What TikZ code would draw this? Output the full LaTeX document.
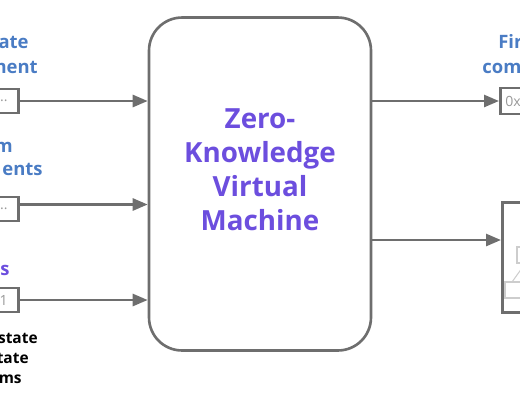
\documentclass[tikz,border=0pt]{standalone}
\usepackage{fontspec}
\setmainfont{Open Sans}
\usetikzlibrary{arrows.meta}

\definecolor{boxgray}{RGB}{110,110,110}
\definecolor{zkblue}{RGB}{74,124,196}
\definecolor{zkpurple}{RGB}{108,78,222}
\definecolor{sketchgray}{RGB}{205,205,205}

\begin{document}
\begin{tikzpicture}[x=0.02cm, y=-0.02cm,
    arr/.style={-{Triangle[length=0.3cm, width=0.24cm]}, draw=boxgray, line width=1.5pt},
    inbox/.style={draw=boxgray, line width=1.5pt, text width=1cm, inner xsep=0.22cm,
        inner ysep=0pt, minimum height=0.48cm, font=\fontsize{8}{9}\selectfont, text=gray!80},
    bluelbl/.style={inner sep=0pt, text=zkblue, font=\fontsize{10.5}{12}\selectfont\bfseries},
    blacklbl/.style={inner sep=0pt, font=\fontsize{8.8}{10}\selectfont\bfseries}]

    % Canvas (the picture is cut at its edges)
    \useasboundingbox (0,0) rectangle (520,400);
    \clip (0,0) rectangle (520,400);

    % Main box
    \node[draw=boxgray, line width=1.5pt, rounded corners=0.66cm,
          minimum width=4.44cm, minimum height=6.66cm] (zkvm) at (260,184) {};
    \node[align=center, text=zkpurple, font=\fontsize{15.8}{19.3}\selectfont\bfseries]
          (zkvmtxt) at (260,170) {Zero-\\Knowledge\\Virtual\\Machine};

    % Input boxes and arrows
    \foreach \n/\y/\txt/\up in {1/101/{..}/0, 2/209/{..}/0.09, 3/300/1/0} {
        \node[inbox, align=right, anchor=east] (in\n) at (20,\y) {\txt};
        \coordinate (a\n) at ([yshift=\up cm]in\n.east);
        \draw[arr] (a\n) -- (a\n -| zkvm.west);
    }

    % Input labels
    \node[bluelbl, anchor=base east] (l1a) at (29,48) {ate};
    \node[bluelbl, anchor=base east] (l1b) at (38,73) {ment};
    \node[bluelbl, anchor=base east] (l2a) at (13,152) {m};
    \node[bluelbl, anchor=base east] (l2b) at (43,175) {ents};
    \node[bluelbl, anchor=base east, text=zkpurple] (l3a) at (10,275) {s};
    \node[blacklbl, anchor=base east] (l4a) at (38,343) {state};
    \node[blacklbl, anchor=base east] (l4b) at (29,363) {tate};
    \node[blacklbl, anchor=base east] (l4c) at (22,383) {ms};

    % Output boxes
    \node[inbox, align=left, anchor=west, inner xsep=0.1cm, minimum height=0.52cm]
          (out1) at (499,101) {0x};
    \node[draw=boxgray, line width=1.5pt, minimum width=1.2cm, minimum height=2.2cm,
          anchor=west] (out2) at (501,257.5) {};
    \coordinate (b2) at ([yshift=0.35cm]out2.west);

    % Output arrows
    \draw[arr] (zkvm.east |- out1.west) -- (out1.west);
    \draw[arr] (b2 -| zkvm.east) -- (b2);

    % Output labels
    \node[bluelbl, anchor=base west] (r1a) at (498,48) {Fir};
    \node[bluelbl, anchor=base west] (r1b) at (482,73) {com};

    % Faint sketch inside the output box
    \draw[sketchgray, line width=0.6pt] (517,247) rectangle (530,263);
    \draw[sketchgray, line width=0.6pt] (512,282) -- (522,268);
    \draw[sketchgray, line width=0.6pt] (505,282) rectangle (535,298);

\end{tikzpicture}
\end{document}
